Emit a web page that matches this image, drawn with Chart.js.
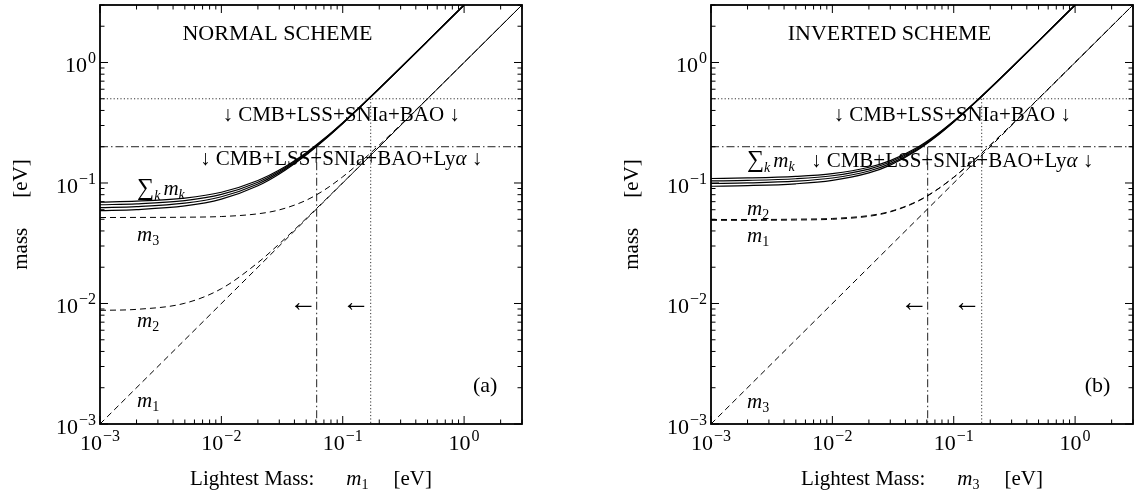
<!DOCTYPE html>
<html>
<head>
<meta charset="utf-8">
<script src="https://cdn.jsdelivr.net/npm/chart.js@4.4.1/dist/chart.umd.min.js"></script>
<style>
  html, body { margin: 0; padding: 0; background: #fff; }
  body { width: 1138px; height: 493px; position: relative; overflow: hidden; }
  canvas { position: absolute; top: 0; }
  #normal { left: 0; }
  #inverted { left: 611px; }
</style>
</head>
<body>
<canvas id="normal" width="528" height="493"></canvas>
<canvas id="inverted" width="528" height="493"></canvas>
<script>
// lightest neutrino mass (eV) where the curves were read
const lightest = [0.001, 0.002, 0.005, 0.01, 0.02, 0.03, 0.05, 0.07, 0.1, 0.15, 0.2, 0.3, 0.5, 1, 2, 3];
const lightestSum = [0.001, 0.002, 0.005, 0.01, 0.02, 0.03, 0.05, 0.07, 0.1, 0.15, 0.2, 0.3, 0.5, 1];
const diagonal = [0.001, 3];

// normal scheme: band of sum curves, then m2 and m3
const nhSum1 = [0.0590, 0.0602, 0.0645, 0.0735, 0.0949, 0.1189, 0.1709, 0.2261, 0.3118, 0.4581, 0.6062, 0.9041, 1.5025, 3.0013];
const nhSum2 = [0.0625, 0.0637, 0.0680, 0.0769, 0.0982, 0.1219, 0.1734, 0.2282, 0.3134, 0.4593, 0.6070, 0.9047, 1.5029, 3.0014];
const nhSum3 = [0.0660, 0.0672, 0.0715, 0.0804, 0.1015, 0.1250, 0.1760, 0.2303, 0.3151, 0.4604, 0.6079, 0.9054, 1.5032, 3.0016];
const nhSum4 = [0.0695, 0.0707, 0.0750, 0.0838, 0.1048, 0.1281, 0.1786, 0.2326, 0.3169, 0.4617, 0.6089, 0.9060, 1.5036, 3.0018];
const nhM2 = [0.00877, 0.00894, 0.01005, 0.01327, 0.02182, 0.03124, 0.05075, 0.07054, 0.10038, 0.15025, 0.20019, 0.30013, 0.50008, 1.00004, 2.0000, 3.0000];
const nhM3 = [0.0517, 0.0518, 0.0520, 0.0527, 0.0555, 0.0598, 0.0719, 0.0870, 0.1126, 0.1587, 0.2066, 0.3044, 0.5027, 1.0013, 2.0007, 3.0004];

// inverted scheme
const ihSum1 = [0.0940, 0.0951, 0.0985, 0.1051, 0.1212, 0.1407, 0.1866, 0.2381, 0.3206, 0.4641, 0.6107, 0.9072, 1.5043, 3.0022];
const ihSum2 = [0.0990, 0.1001, 0.1035, 0.1100, 0.1258, 0.1449, 0.1900, 0.2409, 0.3227, 0.4656, 0.6118, 0.9080, 1.5048, 3.0024];
const ihSum3 = [0.1040, 0.1051, 0.1085, 0.1149, 0.1305, 0.1492, 0.1936, 0.2438, 0.3250, 0.4672, 0.6130, 0.9088, 1.5053, 3.0026];
const ihSum4 = [0.1090, 0.1101, 0.1135, 0.1198, 0.1352, 0.1535, 0.1972, 0.2468, 0.3273, 0.4688, 0.6143, 0.9096, 1.5058, 3.0029];
const ihM1 = [0.0490, 0.0490, 0.0493, 0.0500, 0.0529, 0.0575, 0.0700, 0.0855, 0.1114, 0.1578, 0.2059, 0.3040, 0.5024, 1.0012, 2.0006, 3.0004];
const ihM2 = [0.0498, 0.0498, 0.0501, 0.0508, 0.0537, 0.0581, 0.0706, 0.0859, 0.1117, 0.1581, 0.2061, 0.3041, 0.5025, 1.0012, 2.0006, 3.0004];

// cosmological bounds on the sum (eV) and the lightest masses they give
const sumBounds = [0.5, 0.2];
const lightestBounds = [0.17, 0.061];

// axis ticks
const tickValues = [0.001, 0.002, 0.003, 0.004, 0.005, 0.006, 0.007, 0.008, 0.009,
  0.01, 0.02, 0.03, 0.04, 0.05, 0.06, 0.07, 0.08, 0.09,
  0.1, 0.2, 0.3, 0.4, 0.5, 0.6, 0.7, 0.8, 0.9, 1, 2, 3];
const majorTicks = [0.001, 0.01, 0.1, 1];
const tickExponents = ['\u22123', '\u22122', '\u22121', '0'];

const SERIF = '"Liberation Serif", "DejaVu Serif", serif';
const F = {
  rm: '21px ' + SERIF,
  big: '22px ' + SERIF,
  it: 'italic 21px ' + SERIF,
  sub: '14px ' + SERIF,
  subIt: 'italic 14px ' + SERIF,
  sup: '16px ' + SERIF,
  sum: '24px ' + SERIF,
  arrow: '28px ' + SERIF
};

function pts(xs, ys) {
  return xs.map((x, i) => ({x: x, y: ys[i]}));
}

// runs: [text, font, dy] or a number for a horizontal gap
function drawRuns(ctx, runs, x, y, align) {
  let w = 0;
  runs.forEach(r => {
    if (typeof r === 'number') { w += r; return; }
    ctx.font = r[1];
    w += ctx.measureText(r[0]).width;
  });
  let cx = align === 'center' ? x - w / 2 : align === 'right' ? x - w : x;
  ctx.textAlign = 'left';
  runs.forEach(r => {
    if (typeof r === 'number') { cx += r; return; }
    ctx.font = r[1];
    ctx.fillText(r[0], cx, y + (r[2] || 0));
    cx += ctx.measureText(r[0]).width;
  });
}

const decorations = {
  id: 'decorations',
  afterDatasetsDraw(chart, args, opts) {
    const {ctx, chartArea: a, scales: {x, y}} = chart;
    ctx.save();
    ctx.fillStyle = '#000';
    ctx.strokeStyle = '#000';

    // ticks pointing inwards on all four sides
    ctx.lineWidth = 1;
    ctx.beginPath();
    x.ticks.forEach(t => {
      const p = x.getPixelForValue(t.value);
      const len = majorTicks.includes(t.value) ? 8 : 4.5;
      ctx.moveTo(p, a.bottom); ctx.lineTo(p, a.bottom - len);
      ctx.moveTo(p, a.top); ctx.lineTo(p, a.top + len);
    });
    y.ticks.forEach(t => {
      const p = y.getPixelForValue(t.value);
      const len = majorTicks.includes(t.value) ? 8 : 4.5;
      ctx.moveTo(a.left, p); ctx.lineTo(a.left + len, p);
      ctx.moveTo(a.right, p); ctx.lineTo(a.right - len, p);
    });
    ctx.stroke();
    ctx.lineWidth = 1.8;
    ctx.strokeRect(a.left, a.top, a.right - a.left, a.bottom - a.top);

    // decade labels
    ctx.textBaseline = 'alphabetic';
    majorTicks.forEach((v, i) => {
      const runs = [['10', F.big], 1, [tickExponents[i], F.sup, -9]];
      drawRuns(ctx, runs, x.getPixelForValue(v), a.bottom + 26, 'center');
      drawRuns(ctx, runs, a.left - 4, y.getPixelForValue(v) + 10, 'right');
    });

    // labels inside the plot
    opts.labels.forEach(l => {
      ctx.textBaseline = l.baseline || 'alphabetic';
      drawRuns(ctx, l.runs, x.getPixelForValue(l.x), y.getPixelForValue(l.y), l.align || 'left');
    });

    // axis titles
    ctx.textBaseline = 'alphabetic';
    drawRuns(ctx, opts.xTitle, (a.left + a.right) / 2, a.bottom + 61, 'center');
    ctx.translate(27, (a.top + a.bottom) / 2);
    ctx.rotate(-Math.PI / 2);
    drawRuns(ctx, [['mass', F.rm], 30, ['[eV]', F.rm]], 0, 0, 'center');
    ctx.restore();
  }
};

const sumStyle = {borderColor: '#000', borderWidth: 1.2, cubicInterpolationMode: 'monotone'};
const massStyle = {borderColor: '#000', borderWidth: 1, borderDash: [6, 4], cubicInterpolationMode: 'monotone'};
const dotted = {borderColor: '#333', borderWidth: 1, borderDash: [1.2, 2.2]};
const dashDot = {borderColor: '#222', borderWidth: 1, borderDash: [8, 3, 1.5, 3]};

function boundSets() {
  return [
    Object.assign({data: pts(diagonal, [sumBounds[0], sumBounds[0]])}, dotted),
    Object.assign({data: pts([lightestBounds[0], lightestBounds[0]], [sumBounds[0], 0.001])}, dotted),
    Object.assign({data: pts(diagonal, [sumBounds[1], sumBounds[1]])}, dashDot),
    Object.assign({data: pts([lightestBounds[1], lightestBounds[1]], [sumBounds[1], 0.001])}, dashDot)
  ];
}

function logAxis(size) {
  return {
    type: 'logarithmic', min: 0.001, max: 3,
    ticks: {display: false},
    grid: {display: false},
    border: {display: false},
    afterBuildTicks: s => { s.ticks = tickValues.map(v => ({value: v})); },
    afterFit: s => { if (s.isHorizontal()) s.height = size; else s.width = size; }
  };
}

function makeChart(id, datasets, labels, xTitle) {
  datasets.forEach(d => { d.showLine = true; d.pointRadius = 0; d.fill = false; });
  return new Chart(document.getElementById(id), {
    type: 'scatter',
    data: {datasets: datasets},
    options: {
      responsive: false,
      animation: false,
      layout: {padding: {top: 5, right: 6, left: 0, bottom: 0}},
      plugins: {
        legend: {display: false},
        tooltip: {enabled: false},
        decorations: {labels: labels, xTitle: xTitle}
      },
      scales: {x: logAxis(69), y: logAxis(100)}
    },
    plugins: [decorations]
  });
}

const sumLabel = [['\u2211', F.sum], ['k', F.subIt, 5], 3, ['m', F.it], ['k', F.subIt, 4]];
const mLabel = n => [['m', F.it], [n, F.sub, 4]];
const lyaLabel = [['\u2193 CMB+LSS+SNIa+BAO+Ly', F.rm], ['\u03b1', F.it], [' \u2193', F.rm]];
const bulkLabel = [['\u2193 CMB+LSS+SNIa+BAO \u2193', F.rm]];
const arrowLabels = [
  {x: 0.047, y: 0.01, baseline: 'middle', align: 'center', runs: [['\u2190', F.arrow]]},
  {x: 0.128, y: 0.01, baseline: 'middle', align: 'center', runs: [['\u2190', F.arrow]]}
];

makeChart('normal', [
  Object.assign({data: pts(lightestSum, nhSum1)}, sumStyle),
  Object.assign({data: pts(lightestSum, nhSum2)}, sumStyle),
  Object.assign({data: pts(lightestSum, nhSum3)}, sumStyle),
  Object.assign({data: pts(lightestSum, nhSum4)}, sumStyle),
  Object.assign({data: pts(lightest, nhM3)}, massStyle),
  Object.assign({data: pts(lightest, nhM2)}, massStyle),
  Object.assign({data: pts(diagonal, diagonal)}, massStyle),
  ...boundSets()
], [
  {x: 0.029, y: 1.55, align: 'center', runs: [['NORMAL SCHEME', F.big]]},
  {x: 0.097, y: 0.324, align: 'center', runs: bulkLabel},
  {x: 0.097, y: 0.142, align: 'center', runs: lyaLabel},
  {x: 0.00202, y: 0.0795, runs: sumLabel},
  {x: 0.00202, y: 0.033, runs: mLabel('3')},
  {x: 0.00202, y: 0.00638, runs: mLabel('2')},
  {x: 0.00202, y: 0.00138, runs: mLabel('1')},
  {x: 1.49, y: 0.00184, align: 'center', runs: [['(a)', F.big]]},
  ...arrowLabels
], [['Lightest Mass:', F.rm], 32, ['m', F.it], ['1', F.sub, 4], 25, ['[eV]', F.rm]]);

makeChart('inverted', [
  Object.assign({data: pts(lightestSum, ihSum1)}, sumStyle),
  Object.assign({data: pts(lightestSum, ihSum2)}, sumStyle),
  Object.assign({data: pts(lightestSum, ihSum3)}, sumStyle),
  Object.assign({data: pts(lightestSum, ihSum4)}, sumStyle),
  Object.assign({data: pts(lightest, ihM2)}, massStyle),
  Object.assign({data: pts(lightest, ihM1)}, massStyle),
  Object.assign({data: pts(diagonal, diagonal)}, massStyle),
  ...boundSets()
], [
  {x: 0.0295, y: 1.55, align: 'center', runs: [['INVERTED SCHEME', F.big]]},
  {x: 0.097, y: 0.324, align: 'center', runs: bulkLabel},
  {x: 0.097, y: 0.137, align: 'center', runs: lyaLabel},
  {x: 0.00198, y: 0.137, runs: sumLabel},
  {x: 0.00198, y: 0.0543, runs: mLabel('2')},
  {x: 0.00198, y: 0.0324, runs: mLabel('1')},
  {x: 0.00198, y: 0.00136, runs: mLabel('3')},
  {x: 1.53, y: 0.00184, align: 'center', runs: [['(b)', F.big]]},
  ...arrowLabels
], [['Lightest Mass:', F.rm], 32, ['m', F.it], ['3', F.sub, 4], 25, ['[eV]', F.rm]]);
</script>
</body>
</html>
